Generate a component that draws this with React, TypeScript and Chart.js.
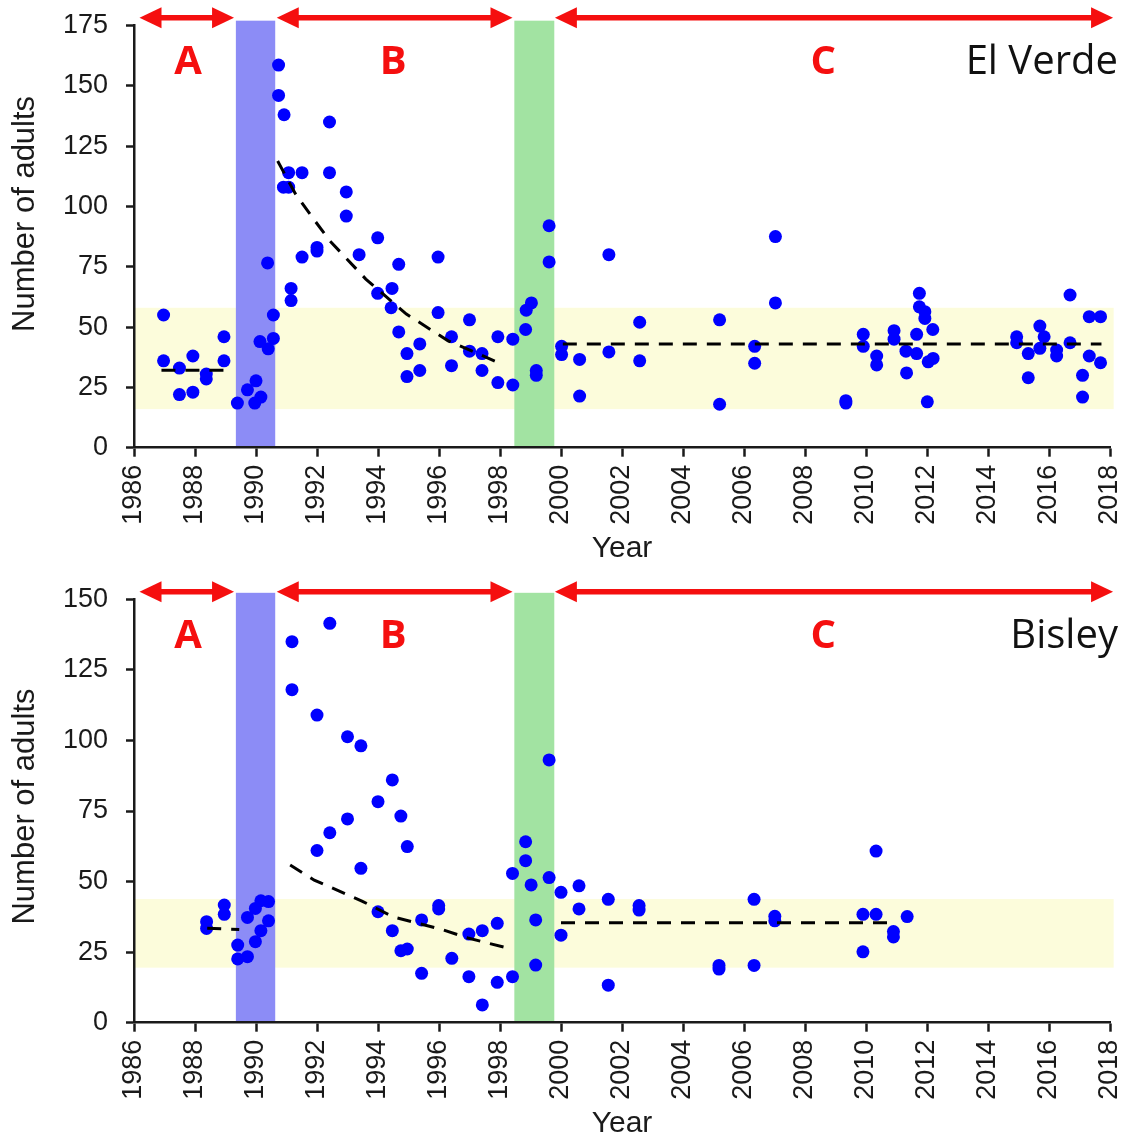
import React, { useEffect, useRef } from 'react';
import { Chart, registerables } from 'chart.js';

Chart.register(...registerables);

// ---------- data ----------
const yearMin = 1986;
const yearMax = 2018;
const yearStep = 2;
const adultStep = 25;

const periodLabels = ['A', 'B', 'C'];
const periodStart = [1986.18, 1990.68, 1999.8];
const periodEnd = [1989.28, 1998.41, 2018.1];
const periodLabelYear = [1987.77, 1994.5, 2008.6];

const blueBand = [1989.34, 1990.63];
const greenBand = [1998.47, 1999.78];

// El Verde
const elVerdeYears = [1986.97, 1986.97, 1987.49, 1987.49, 1987.93, 1987.93, 1988.37, 1988.37, 1988.95, 1988.95, 1989.39, 1989.72, 1989.96, 1990.0, 1990.16, 1990.13, 1990.4, 1990.38, 1990.57, 1990.57, 1990.74, 1990.74, 1990.92, 1991.07, 1991.07, 1990.9, 1991.51, 1991.15, 1991.15, 1991.51, 1992.0, 1992.0, 1992.41, 1992.41, 1992.96, 1992.96, 1993.38, 1993.99, 1993.99, 1994.46, 1994.68, 1994.68, 1994.43, 1994.95, 1994.95, 1995.37, 1995.37, 1995.97, 1995.97, 1996.41, 1996.41, 1997.0, 1997.0, 1997.41, 1997.41, 1997.93, 1997.93, 1998.42, 1998.42, 1998.84, 1998.86, 1999.03, 1999.19, 1999.19, 1999.61, 1999.61, 2000.02, 2000.02, 2000.61, 2000.61, 2001.57, 2001.57, 2002.58, 2002.58, 2005.2, 2005.2, 2006.35, 2006.35, 2007.03, 2007.03, 2009.34, 2009.34, 2009.91, 2009.91, 2010.35, 2010.35, 2010.92, 2010.92, 2011.31, 2011.33, 2011.66, 2011.66, 2011.75, 2011.75, 2011.93, 2011.93, 2012.19, 2012.04, 2012.2, 2012.01, 2014.94, 2014.94, 2015.32, 2015.32, 2015.7, 2015.84, 2015.7, 2016.25, 2016.25, 2016.69, 2016.69, 2017.1, 2017.1, 2017.32, 2017.32, 2017.69, 2017.69];
const elVerdeAdults = [55, 36, 33, 22, 38, 23, 30.5, 28.5, 46, 36, 18.5, 24, 18.5, 27.7, 21, 44, 41, 76.6, 55, 45.3, 158.6, 146, 138, 114, 108, 108, 114, 66, 61, 79, 83, 81.5, 135, 114, 106, 96, 80, 87, 64, 66, 76, 48, 58, 39, 29.5, 43, 32, 79, 56, 46, 34, 53, 40, 39, 32, 46, 27, 45, 26, 49, 57, 60, 32, 30, 92, 77, 42, 38.6, 36.6, 21.4, 80, 39.7, 52, 36, 53, 18, 42, 35, 87.5, 60, 19.5, 18.5, 47, 42, 38, 34.3, 48.5, 45, 40, 31, 47, 39, 64, 58.4, 56.4, 53.6, 49, 35.6, 37, 19, 46, 43.5, 39, 29, 50.4, 46, 41.2, 40.5, 38, 63.3, 43.5, 30, 21, 54.3, 38, 54.3, 35.2];
const elVerdeTrendAYears = [1986.9, 1989.17];
const elVerdeTrendAValues = [32.1, 32.1];
const elVerdeTrendBYears = [1990.71, 1991.29, 1991.84, 1992.41, 1993.6, 1994.93, 1996.3, 1998.07];
const elVerdeTrendBValues = [118.8, 105.3, 95.6, 85.9, 69.9, 55.4, 44.3, 34.6];
const elVerdeTrendCYears = [2000.06, 2017.72];
const elVerdeTrendCValues = [43, 43];
const elVerdeNormalRange = [16, 58];

// Bisley
const bisleyYears = [1988.38, 1988.38, 1988.96, 1988.96, 1989.4, 1989.4, 1989.72, 1989.72, 1989.98, 1989.98, 1990.16, 1990.16, 1990.41, 1990.41, 1991.18, 1991.18, 1992.0, 1992.0, 1992.42, 1992.42, 1993.0, 1993.0, 1993.44, 1993.44, 1994.0, 1994.0, 1994.47, 1994.47, 1994.75, 1994.75, 1994.96, 1994.96, 1995.43, 1995.43, 1995.99, 1995.99, 1996.42, 1996.98, 1996.98, 1997.42, 1997.42, 1997.91, 1997.91, 1998.41, 1998.41, 1998.84, 1998.84, 1999.02, 1999.17, 1999.17, 1999.61, 1999.61, 2000.0, 2000.0, 2000.59, 2000.59, 2001.55, 2001.55, 2002.56, 2002.56, 2005.18, 2005.18, 2006.33, 2006.33, 2007.01, 2007.01, 2009.9, 2009.9, 2010.33, 2010.33, 2010.9, 2010.9, 2011.35];
const bisleyAdults = [35.8, 33.4, 41.7, 38.4, 27.5, 22.6, 23.4, 37.3, 28.7, 40.5, 32.6, 43.2, 42.9, 36.1, 135, 118, 109, 61, 141.5, 67.3, 101.3, 72.2, 98.1, 54.7, 78.3, 39.3, 86, 32.6, 73.2, 25.5, 62.4, 26.1, 36.4, 17.5, 41.5, 40.3, 22.8, 31.4, 16.3, 32.6, 6.3, 35.2, 14.3, 52.9, 16.3, 64.1, 57.4, 48.8, 36.4, 20.4, 93.1, 51.4, 46.2, 31.0, 48.5, 40.3, 43.7, 13.3, 41.5, 39.9, 20.3, 19.0, 43.7, 20.3, 37.7, 36.1, 38.4, 25.1, 60.8, 38.4, 32.3, 30.4, 37.6];
const bisleyTrendAYears = [1988.4, 1989.45];
const bisleyTrendAValues = [33.5, 33];
const bisleyTrendBYears = [1991.12, 1991.91, 1993.49, 1994.5, 1996.1, 1996.95, 1998.12];
const bisleyTrendBValues = [55.9, 50.5, 43, 37.5, 33, 30, 26.8];
const bisleyTrendCYears = [2000.0, 2010.92];
const bisleyTrendCValues = [35.4, 35.4];
const bisleyNormalRange = [19.5, 43.8];

// ---------- styles ----------
const AXIS_FONT = '"Liberation Sans", Arial, sans-serif';
const LABEL_FONT = '"Open Sans", "Noto Sans", sans-serif';
const TEXT = '#1a1a1a';
const RED = '#f50f0f';
const DOT = '#0000ff';
const YELLOW = '#fcfcdb';
const BLUE_BAND = '#8c8cf6';
const GREEN_BAND = '#a2e3a2';

type Panel = {
  site: string;
  years: number[];
  adults: number[];
  trends: { x: number[]; y: number[] }[];
  normal: number[];
  yMax: number;
  padTop: number;
  xAxisHeight: number;
  xTitlePad: number;
  bandTop: number;
  arrowY: number;
  textBase: number;
  yTitleCenter: number;
};

const panels: Panel[] = [
  {
    site: 'El Verde',
    years: elVerdeYears,
    adults: elVerdeAdults,
    trends: [
      { x: elVerdeTrendAYears, y: elVerdeTrendAValues },
      { x: elVerdeTrendBYears, y: elVerdeTrendBValues },
      { x: elVerdeTrendCYears, y: elVerdeTrendCValues },
    ],
    normal: elVerdeNormalRange,
    yMax: 175,
    padTop: 25.5,
    xAxisHeight: 122.3,
    xTitlePad: 3.5,
    bandTop: 177,
    arrowY: 178.2,
    textBase: 155,
    yTitleCenter: 96.9,
  },
  {
    site: 'Bisley',
    years: bisleyYears,
    adults: bisleyAdults,
    trends: [
      { x: bisleyTrendAYears, y: bisleyTrendAValues },
      { x: bisleyTrendBYears, y: bisleyTrendBValues },
      { x: bisleyTrendCYears, y: bisleyTrendCValues },
    ],
    normal: bisleyNormalRange,
    yMax: 150,
    padTop: 25.3,
    xAxisHeight: 121.3,
    xTitlePad: 2.5,
    bandTop: 152.3,
    arrowY: 152.7,
    textBase: 132.7,
    yTitleCenter: 76.6,
  },
];

function drawArrow(ctx: CanvasRenderingContext2D, x1: number, x2: number, y: number) {
  const hl = 22;
  const hw = 10.5;
  ctx.strokeStyle = RED;
  ctx.fillStyle = RED;
  ctx.lineWidth = 5.5;
  ctx.lineCap = 'butt';
  ctx.beginPath();
  ctx.moveTo(x1 + hl - 2, y);
  ctx.lineTo(x2 - hl + 2, y);
  ctx.stroke();
  ctx.beginPath();
  ctx.moveTo(x1, y);
  ctx.lineTo(x1 + hl, y - hw);
  ctx.lineTo(x1 + hl, y + hw);
  ctx.closePath();
  ctx.fill();
  ctx.beginPath();
  ctx.moveTo(x2, y);
  ctx.lineTo(x2 - hl, y - hw);
  ctx.lineTo(x2 - hl, y + hw);
  ctx.closePath();
  ctx.fill();
}

function zeroPadding(s: any) {
  s.paddingLeft = 0;
  s.paddingRight = 0;
  s.paddingTop = 0;
  s.paddingBottom = 0;
}

function makeChart(canvas: HTMLCanvasElement, panel: Panel) {
  const decor = {
    id: 'decor',
    beforeDraw(chart: any) {
      const { ctx } = chart;
      const xs = chart.scales.x;
      const ys = chart.scales.y;
      const px = (v: number) => xs.getPixelForValue(v);
      const py = (v: number) => ys.getPixelForValue(v);
      ctx.save();
      // normal range band
      ctx.fillStyle = YELLOW;
      ctx.fillRect(px(yearMin), py(panel.normal[1]), px(2018.12) - px(yearMin), py(panel.normal[0]) - py(panel.normal[1]));
      // disturbance bands
      ctx.fillStyle = BLUE_BAND;
      ctx.fillRect(px(blueBand[0]), py(panel.bandTop), px(blueBand[1]) - px(blueBand[0]), py(0) - py(panel.bandTop));
      ctx.fillStyle = GREEN_BAND;
      ctx.fillRect(px(greenBand[0]), py(panel.bandTop), px(greenBand[1]) - px(greenBand[0]), py(0) - py(panel.bandTop));
      // period arrows and letters
      for (let i = 0; i < periodLabels.length; i++) {
        drawArrow(ctx, px(periodStart[i]), px(periodEnd[i]), py(panel.arrowY));
      }
      ctx.fillStyle = RED;
      ctx.font = `bold 40px ${LABEL_FONT}`;
      ctx.textAlign = 'center';
      ctx.textBaseline = 'alphabetic';
      for (let i = 0; i < periodLabels.length; i++) {
        ctx.fillText(periodLabels[i], px(periodLabelYear[i]), py(panel.textBase));
      }
      // site name
      ctx.fillStyle = '#111';
      ctx.font = `40px ${LABEL_FONT}`;
      ctx.textAlign = 'right';
      ctx.fillText(panel.site, px(2018.26), py(panel.textBase));
      // y title
      ctx.translate(25, py(panel.yTitleCenter));
      ctx.rotate(-Math.PI / 2);
      ctx.font = `31px ${AXIS_FONT}`;
      ctx.fillStyle = TEXT;
      ctx.textAlign = 'center';
      ctx.textBaseline = 'middle';
      ctx.fillText('Number of adults', 0, 0);
      ctx.restore();
    },
  };

  const datasets: any[] = [
    ...panel.trends.map((t) => ({
      data: t.x.map((x, i) => ({ x, y: t.y[i] })),
      showLine: true,
      borderColor: '#000',
      borderWidth: 3,
      borderDash: [14, 10],
      pointRadius: 0,
      pointHoverRadius: 0,
      fill: false,
      tension: 0,
    })),
    {
      data: panel.years.map((x, i) => ({ x, y: panel.adults[i] })),
      pointRadius: 6.5,
      pointHoverRadius: 6.5,
      pointBackgroundColor: DOT,
      backgroundColor: DOT,
      pointBorderWidth: 0,
      borderWidth: 0,
      showLine: false,
    },
  ];

  return new Chart(canvas, {
    type: 'scatter',
    data: { datasets },
    plugins: [decor],
    options: {
      animation: false,
      responsive: false,
      devicePixelRatio: 1,
      events: [],
      layout: { padding: { top: panel.padTop, right: 18, left: 0, bottom: 0 } },
      plugins: { legend: { display: false }, tooltip: { enabled: false } },
      scales: {
        x: {
          type: 'linear',
          min: yearMin,
          max: yearMax,
          ticks: {
            stepSize: yearStep,
            autoSkip: false,
            maxRotation: 90,
            minRotation: 90,
            padding: 8,
            color: TEXT,
            font: { family: AXIS_FONT, size: 27 },
            callback: (v: any) => String(v),
          },
          grid: { drawOnChartArea: false, drawTicks: true, tickLength: 9, tickWidth: 2.5, tickColor: TEXT },
          border: { display: true, color: TEXT, width: 2.5 },
          title: {
            display: true,
            text: 'Year',
            color: TEXT,
            font: { family: AXIS_FONT, size: 30 },
            padding: { top: 0, bottom: panel.xTitlePad },
          },
          afterFit: (s: any) => {
            s.height = panel.xAxisHeight;
            zeroPadding(s);
          },
        },
        y: {
          type: 'linear',
          min: 0,
          max: panel.yMax,
          ticks: {
            stepSize: adultStep,
            padding: 18,
            color: TEXT,
            font: { family: AXIS_FONT, size: 27 },
          },
          grid: { drawOnChartArea: false, drawTicks: true, tickLength: 8, tickWidth: 2.5, tickColor: TEXT },
          border: { display: true, color: TEXT, width: 2.5 },
          title: { display: false },
          afterFit: (s: any) => {
            s.width = 134;
            zeroPadding(s);
          },
        },
      },
    } as any,
  });
}

export default function App() {
  const topRef = useRef<HTMLCanvasElement>(null);
  const botRef = useRef<HTMLCanvasElement>(null);
  useEffect(() => {
    const c1 = makeChart(topRef.current as HTMLCanvasElement, panels[0]);
    const c2 = makeChart(botRef.current as HTMLCanvasElement, panels[1]);
    return () => {
      c1.destroy();
      c2.destroy();
    };
  }, []);
  return (
    <div style={{ position: 'absolute', left: 0, top: 0, width: 1128, height: 1139, overflow: 'hidden', background: '#fff' }}>
      <canvas ref={topRef} width={1128} height={570} style={{ position: 'absolute', left: 0, top: 0, width: 1128, height: 570 }} />
      <canvas ref={botRef} width={1128} height={570} style={{ position: 'absolute', left: 0, top: 574, width: 1128, height: 570 }} />
    </div>
  );
}
